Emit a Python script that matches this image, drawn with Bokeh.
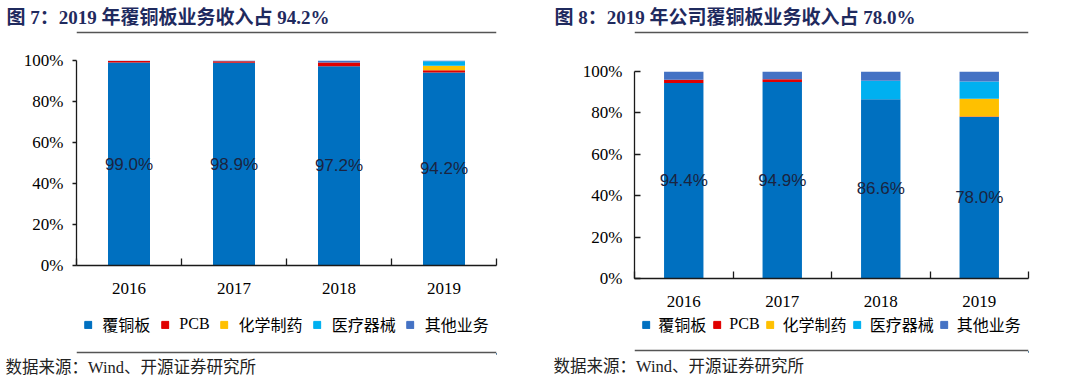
from bokeh.plotting import figure
from bokeh.models import (ColumnDataSource, Range1d, FixedTicker, PrintfTickFormatter, Legend,
                          LegendItem, Title)
from bokeh.layouts import row, column
from bokeh.core.properties import value
from bokeh.embed import file_html
from bokeh.resources import INLINE

# ---------------- data ----------------
years = ["2016", "2017", "2018", "2019"]
series = ["覆铜板", "PCB", "化学制药", "医疗器械", "其他业务"]
colors = ["#0070C0", "#E00000", "#FFC000", "#00B0F0", "#4472C4"]

left_ccl = [99.0, 98.9, 97.2, 94.2]
left_pcb = [0.8, 0.7, 1.8, 1.1]
left_chem = [0.0, 0.0, 0.0, 2.2]
left_med = [0.0, 0.0, 0.0, 2.1]
left_other = [0.2, 0.4, 1.0, 0.4]

right_ccl = [94.4, 94.9, 86.6, 78.0]
right_pcb = [1.6, 1.4, 0.0, 0.3]
right_chem = [0.0, 0.0, 0.0, 8.5]
right_med = [0.0, 0.0, 8.9, 8.4]
right_other = [4.0, 3.7, 4.5, 4.8]

y_ticks = [0, 20, 40, 60, 80, 100]

title_left = "图 7：2019 年覆铜板业务收入占 94.2%"
title_right = "图 8：2019 年公司覆铜板业务收入占 78.0%"
source_text = "数据来源：Wind、开源证券研究所"

# ---------------- styles ----------------
SERIF = "'Liberation Serif', 'Noto Sans CJK SC'"
SANS = "'Liberation Sans', Arial"
TITLE_COLOR = "#1F2A5E"
RULE_COLOR = "#555555"
W = 540


def bare(height, mbl, mbr, mbt, mbb, yr):
    p = figure(width=W, height=height, x_range=Range1d(0, 1), y_range=Range1d(0, yr),
               x_axis_type=None, y_axis_type=None, output_backend="svg", toolbar_location=None,
               min_border_left=mbl, min_border_right=mbr, min_border_top=mbt, min_border_bottom=mbb)
    p.outline_line_color = None
    return p


def header(mbl, mbr, title, t_off):
    p = bare(40, mbl, mbr, 28, 0, 1)
    p.title.text = title
    p.title.align = "left"
    p.title.offset = t_off
    p.title.standoff = 2
    p.title.text_font = SERIF
    p.title.text_font_style = "bold"
    p.title.text_font_size = "19px"
    p.title.text_color = TITLE_COLOR
    p.segment(x0=[0], y0=[0.667], x1=[1], y1=[0.667], line_color=RULE_COLOR, line_width=1.5)
    return p


def footer(mbl, mbr, t_off, src_stand, lab_standoff, spacing):
    p = bare(66, mbl, mbr, 0, 24, 42)
    # legend keys: one hidden bar per series, placed outside the visible x range
    proxies = [p.vbar(x=[5], top=[1], width=0.4, color=c) for c in colors]
    items = [LegendItem(label=s, renderers=[r]) for s, r in zip(series, proxies)]
    leg = Legend(items=items, orientation="horizontal", location="top_center",
                 glyph_width=9, glyph_height=9, label_standoff=lab_standoff, spacing=spacing,
                 padding=0, margin=0, border_line_color=None, background_fill_alpha=0,
                 label_text_font=SERIF, label_text_font_size="16px", label_text_color="#000000")
    p.add_layout(leg)
    p.segment(x0=[0], y0=[2], x1=[1], y1=[2], line_color=RULE_COLOR, line_width=1.5)
    p.add_layout(Title(text=source_text, align="left", offset=t_off, standoff=src_stand,
                       text_font=SERIF, text_font_style="normal", text_font_size="16.5px",
                       text_color="#222222"), "below")
    return p


def chart(mbl, mbr, mbt, mbb, data, ytick_in, ytick_out, ystandoff):
    keys = ["s%d" % i for i in range(len(series))]
    xs = list(range(len(years)))
    d = dict(x=xs)
    for k, v in zip(keys, data):
        d[k] = v
    d["lab"] = ["%.1f%%" % v for v in data[0]]
    d["ly"] = [v / 2.0 for v in data[0]]
    src = ColumnDataSource(d)

    p = figure(width=W, height=272, x_range=Range1d(-0.5, len(years) - 0.5), y_range=Range1d(0, 100),
               output_backend="svg", toolbar_location=None,
               min_border_left=mbl, min_border_right=mbr, min_border_top=mbt, min_border_bottom=mbb)
    p.outline_line_color = None
    p.xgrid.visible = False
    p.ygrid.visible = False

    p.vbar_stack(stackers=keys, x="x", width=0.4, color=colors, line_color=None, source=src)
    p.text(x="x", y="ly", text="lab", source=src, text_font=value(SANS), text_font_size="17px",
           text_color="#1B2440", text_align="center", text_baseline="middle")

    xa = p.xaxis[0]
    xa.ticker = FixedTicker(ticks=xs, minor_ticks=[i - 0.5 for i in range(len(years) + 1)])
    xa.major_label_overrides = {i: y for i, y in zip(xs, years)}
    xa.major_tick_in = 0
    xa.major_tick_out = 0
    xa.minor_tick_in = 7
    xa.minor_tick_out = 0
    xa.minor_tick_line_color = "#1a1a1a"
    xa.minor_tick_line_width = 1.3
    xa.major_label_standoff = 17
    ya = p.yaxis[0]
    ya.ticker = FixedTicker(ticks=y_ticks)
    ya.formatter = PrintfTickFormatter(format="%d%%")
    ya.major_tick_in = ytick_in
    ya.major_tick_out = ytick_out
    ya.minor_tick_line_color = None
    ya.major_label_standoff = ystandoff
    for a in (xa, ya):
        a.axis_line_color = "#1a1a1a"
        a.axis_line_width = 1.3
        a.major_tick_line_color = "#1a1a1a"
        a.major_tick_line_width = 1.3
        a.major_label_text_font = SERIF
        a.major_label_text_font_size = "17px"
        a.major_label_text_color = "#000000"
    return p


left_data = [left_ccl, left_pcb, left_chem, left_med, left_other]
right_data = [right_ccl, right_pcb, right_chem, right_med, right_other]

h1 = header(76, 44, title_left, -70)
c1 = chart(76, 44, 20, 47, left_data, 0, 4, 9)
f1 = footer(76, 44, -71, 2, 10, 10)

h2 = header(94, 52, title_right, -80)
c2 = chart(94, 52, 31, 34, right_data, 6, 0, 12)
f2 = footer(94, 52, -81, 5, 8, 6)

layout = row(column(h1, c1, f1), column(h2, c2, f2))

open("out.html", "w").write(file_html(layout, INLINE))
